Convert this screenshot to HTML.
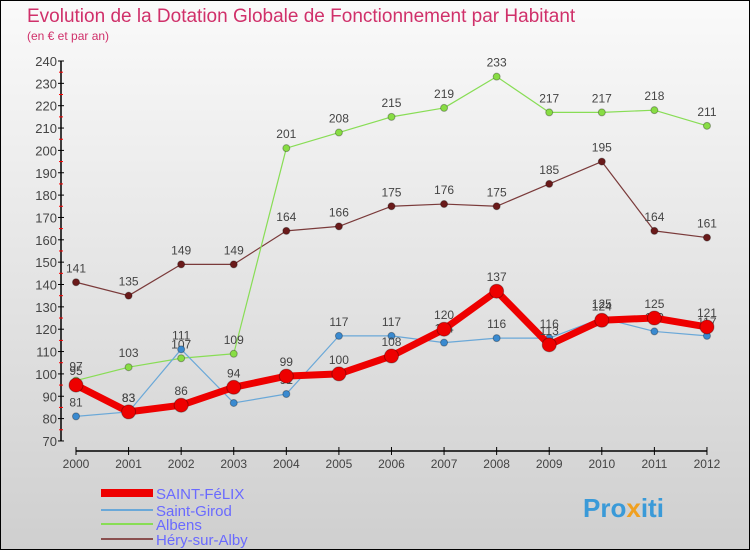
<!DOCTYPE html>
<html><head><meta charset="utf-8"><style>
body{margin:0}
#c{position:relative;width:748px;height:548px;border:1px solid #000;background:linear-gradient(#fafafa,#cfcfcf);font-family:"Liberation Sans",sans-serif;overflow:hidden}
</style></head><body>
<div id="c">
<svg id="s" width="748" height="548" xmlns="http://www.w3.org/2000/svg">
<text x="26" y="21" font-size="19" fill="#d0306a">Evolution de la Dotation Globale de Fonctionnement par Habitant</text>
<text x="26" y="39" font-size="12" fill="#d0306a">(en € et par an)</text>
<g id="axes"></g><g id="series"></g>
<g>
<line x1="100" y1="492" x2="152" y2="492" stroke="#e00" stroke-width="8"/>
<text x="155" y="498" font-size="15" fill="#6a6aff">SAINT-FéLIX</text>
<line x1="100" y1="509" x2="152" y2="509" stroke="#6aa8d8" stroke-width="2"/>
<text x="155" y="515" font-size="15" fill="#6a6aff">Saint-Girod</text>
<line x1="100" y1="523" x2="152" y2="523" stroke="#88dd55" stroke-width="2"/>
<text x="155" y="529" font-size="15" fill="#6a6aff">Albens</text>
<line x1="100" y1="538" x2="152" y2="538" stroke="#8a5050" stroke-width="2"/>
<text x="155" y="544" font-size="15" fill="#6a6aff">Héry-sur-Alby</text>
</g>
<text x="582" y="516" font-size="26" font-weight="bold" fill="#3a9ad8">Pro<tspan fill="#f0a020">x</tspan>iti</text>
</svg></div>
<script>
const years=["2000","2001","2002","2003","2004","2005","2006","2007","2008","2009","2010","2011","2012"];
const felix=[95,83,86,94,99,100,108,120,137,113,124,125,121];
const girod=[81,83,111,87,91,117,117,114,116,116,125,119,117];
const albens=[97,103,107,109,201,208,215,219,233,217,217,218,211];
const hery=[141,135,149,149,164,166,175,176,175,185,195,164,161];
const yTicks=[70,80,90,100,110,120,130,140,150,160,170,180,190,200,210,220,230,240];
const NS="http://www.w3.org/2000/svg";
const X=i=>75+i*52.58, Y=v=>60+(240-v)*2.235;
function mk(t,a,p){const e=document.createElementNS(NS,t);for(const k in a)e.setAttribute(k,a[k]);p.appendChild(e);return e;}
const ax=document.getElementById('axes');
const yl=mk('line',{x1:60,y1:60,x2:60,y2:440,stroke:'#000','stroke-width':1.5},ax);


const xl=mk('line',{x1:75,y1:450,x2:X(12),y2:450,stroke:'#000','stroke-width':1.5},ax);


yTicks.forEach(v=>{
 mk('line',{x1:57,y1:Y(v),x2:63,y2:Y(v),stroke:'#000'},ax);
 if(v<240)mk('line',{x1:58,y1:Y(v+5),x2:62,y2:Y(v+5),stroke:'#f00'},ax);
 const t=mk('text',{x:56,y:Y(v)+5,'text-anchor':'end','font-size':13,fill:'#444'},ax);t.textContent=v;
 
 
});
years.forEach((y,i)=>{
 mk('line',{x1:X(i),y1:446,x2:X(i),y2:454,stroke:'#000'},ax);
 const t=mk('text',{x:X(i),y:467,'text-anchor':'middle','font-size':12,fill:'#444'},ax);t.textContent=y;
 
 
});
const sg=document.getElementById('series');
function draw(d,name,col,w,r,dot){
 const g=mk('g',{},sg);
 
 
 const p=mk('polyline',{points:d.map((v,i)=>X(i)+','+Y(v)).join(' '),fill:'none',stroke:col,'stroke-width':w,'stroke-linejoin':'round'},g);
 d.forEach((v,i)=>{
  const c=mk('circle',{cx:X(i),cy:Y(v),r:r,fill:dot,stroke:'rgba(0,0,0,0.3)'},g);
  
  
  const t=mk('text',{x:X(i),y:Y(v)-10,'text-anchor':'middle','font-size':12,fill:'#444'},g);t.textContent=v;
  
  
 });
}
draw(hery,'hery','#7a3a3a',1.2,3.5,'#6a1a1a');
draw(albens,'albens','#88dd55',1.2,3.5,'#88dd44');
draw(girod,'saint-girod','#6aa8d8',1.2,3.5,'#3a8ad0');
draw(felix,'saint-felix','#ee0000',7,7,'#e00');
</script>
</body></html>
